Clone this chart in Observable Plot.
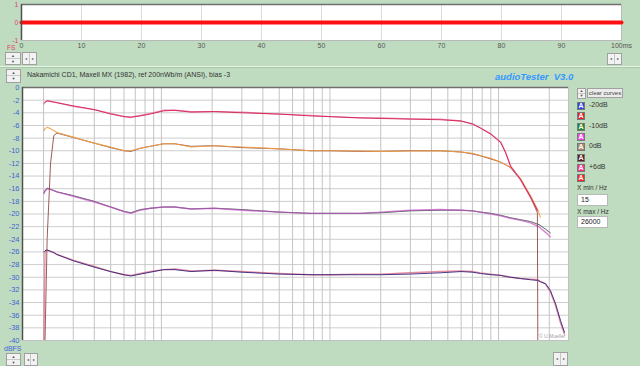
<!DOCTYPE html>
<html><head><meta charset="utf-8">
<script src="https://cdn.jsdelivr.net/npm/d3@7"></script>
<script src="https://cdn.jsdelivr.net/npm/@observablehq/plot@0.6"></script>
<style>
html,body{margin:0;padding:0;background:#c0dcc0;}
#root{position:relative;width:640px;height:366px;overflow:hidden;background:#c0dcc0;font-family:"Liberation Sans",Arial,sans-serif;}
#root svg{position:absolute;background:transparent;}
.t{position:absolute;white-space:pre;}
.btn{position:absolute;box-sizing:border-box;background:#f2f2f2;border:1px solid #a0a0a0;color:#555;font-size:4px;text-align:center;overflow:hidden;white-space:nowrap;}
.half{display:block;box-sizing:border-box;}
.box{position:absolute;box-sizing:border-box;width:8px;height:8px;border:1px solid #777;color:#fff;font-size:7px;line-height:6px;text-align:center;font-weight:bold;}
.inp{position:absolute;box-sizing:border-box;background:#fff;border:1px solid #b8b8b8;font-size:7px;padding-left:3px;color:#222;}
</style></head><body><div id="root"></div>
<script>
// ---------- data ----------
const timeMs = [0, 100];
const fsLevel = [0, 0];
const timeTicks = [0,10,20,30,40,50,60,70,80,90,100];
const timeTickLabels = ["0","10","20","30","40","50","60","70","80","90","100ms"];
const fsTicks = [-1, 0, 1];

const freqHz = [20.1, 20.4, 21, 22, 23, 24, 30, 40, 50, 60, 66, 75, 86, 103, 120, 150, 207, 300, 500, 770,
  1000, 1500, 2000, 3000, 4500, 6000, 7000, 7800, 9000, 10300, 11000, 11800, 13500, 15500, 17000, 17100,
  17700, 19000, 20300, 21800, 23300, 24600];

const plus6dB_a = [-2.6,-2.3,-2.1,-2.2,-2.3,-2.4,-3.0,-3.5,-4.1,-4.6,-4.7,-4.4,-4.1,-3.6,-3.6,-3.8,-3.8,-3.9,-4.2,-4.4,
  -4.6,-4.8,-4.8,-4.95,-5.0,-5.3,-5.7,-6.4,-7.3,-8.6,-10.2,-12.4,-14.6,-17.4,-19.5,null,
  null,null,null,null,null,null];
const plus6dB_b = [null,-2.4,-2.1,-2.2,-2.3,-2.4,-2.9,-3.5,-4.2,-4.6,-4.7,-4.5,-4.2,-3.7,-3.6,-3.9,-3.8,-4.0,-4.2,-4.5,
  -4.6,-4.8,-4.9,-5.0,-5.1,-5.3,-5.8,-6.4,-7.4,-8.7,-10.3,-12.5,-14.5,-17.3,-19.4,null,
  null,null,null,null,null,null];
const zero_dB_a = [-6.8,-6.5,-6.3,-6.5,-6.8,-7.1,-7.85,-8.8,-9.4,-10.0,-10.0,-9.6,-9.3,-8.9,-8.9,-9.4,-9.2,-9.4,-9.7,-10.0,
  -10.0,-10.05,-10.1,-10.05,-10.0,-10.2,-10.4,-10.75,-11.2,-11.8,-12.2,-12.6,-14.4,-17.1,-19.2,-19.3,
  -20.5,null,null,null,null,null];
const zero_dB_b = [null,-40,-24,-12,-7.6,-7.2,-7.9,-8.8,-9.5,-10.0,-10.1,-9.6,-9.3,-8.9,-8.9,-9.3,-9.2,-9.5,-9.7,-10.0,
  -10.0,-10.1,-10.1,-10.0,-10.0,-10.2,-10.5,-10.8,-11.3,-11.8,-12.2,-12.7,-14.6,-17.4,-19.8,-40,
  null,null,null,null,null,null];
const minus10dB_a = [-16.6,-16.3,-15.9,-16.1,-16.3,-16.5,-17.1,-18.0,-18.9,-19.6,-19.8,-19.3,-19.1,-18.9,-18.9,-19.2,-19.1,-19.3,-19.7,-19.9,
  -19.9,-19.9,-19.8,-19.5,-19.4,-19.4,-19.5,-19.7,-19.9,-20.2,-20.4,-20.6,-20.9,-21.2,-21.6,-21.6,
  -21.8,-22.4,-23.0,null,null,null];
const minus10dB_b = [-16.8,-16.4,-16.0,-16.1,-16.3,-16.5,-17.2,-18.1,-18.9,-19.6,-19.9,-19.4,-19.1,-18.9,-18.9,-19.2,-19.1,-19.4,-19.7,-19.9,
  -19.9,-19.9,-19.7,-19.4,-19.3,-19.4,-19.5,-19.7,-20.0,-20.3,-20.5,-20.7,-21.0,-21.4,-21.9,-21.9,
  -22.2,-22.9,-23.6,null,null,null];
const minus20dB_a = [-26.0,-25.8,-25.7,-25.9,-26.1,-26.4,-27.4,-28.4,-29.1,-29.6,-29.8,-29.5,-29.2,-28.8,-28.8,-29.1,-28.9,-29.2,-29.5,-29.6,
  -29.6,-29.6,-29.6,-29.5,-29.3,-29.1,-29.2,-29.4,-29.6,-29.7,-29.9,-30.0,-30.2,-30.4,-30.5,-30.5,
  -30.7,-31.0,-32.1,-34.2,-36.8,-38.7];
const minus20dB_b = [-40,-26.0,-25.7,-25.9,-26.1,-26.4,-27.3,-28.3,-29.1,-29.6,-29.7,-29.4,-29.1,-28.8,-28.7,-29.0,-28.9,-29.1,-29.4,-29.6,
  -29.6,-29.5,-29.5,-29.3,-29.1,-29.0,-29.1,-29.3,-29.5,-29.7,-29.8,-30.0,-30.2,-30.3,-30.4,-30.4,
  -30.7,-31.1,-32.3,-34.5,-37.2,-39.0];

const dbTicks = [0,-2,-4,-6,-8,-10,-12,-14,-16,-18,-20,-22,-24,-26,-28,-30,-32,-34,-36,-38,-40];
const hzTicks = [20,30,50,100,200,300,500,1000,2000,3000,5000,10000,20000];
const hzTickLabels = ["20","30","50","100","200","300","500","1k","2k","3k","5k","10k","20kHz"];
const hzGrid = [20,30,40,50,60,70,80,90,100,200,300,400,500,600,700,800,900,
  1000,2000,3000,4000,5000,6000,7000,8000,9000,10000,20000];

const legendLabels = ["-20dB","","-10dB","","0dB","","+6dB",""];
const title = "Nakamichi CD1, Maxell MX (1982), ref 200nWb/m (ANSI), bias -3";

// ---------- styles (kept separate from data) ----------
const legendColors = ["#2b45e0","#e02424","#1f8a2a","#ee44ee","#a88a6a","#5a2020","#ff2e8c","#ff2020"];
const curves = [
  {v: minus20dB_b, c: "#e0708a", w: 1.4, o: 0.8},
  {v: minus20dB_a, c: "#2a1a7a", w: 0.9, o: 0.95},
  {v: minus10dB_a, c: "#5aa05a", w: 1.0, o: 0.9},
  {v: minus10dB_b, c: "#d070d0", w: 1.4, o: 0.85},
  {v: minus10dB_a, c: "#6a2a7a", w: 0.6, o: 0.7},
  {v: zero_dB_b,  c: "#8a4040", w: 1.0, o: 0.85},
  {v: zero_dB_a,  c: "#f0a040", w: 1.1, o: 0.9},
  {v: plus6dB_a,  c: "#e878b0", w: 1.3, o: 0.9},
  {v: plus6dB_b,  c: "#d01038", w: 0.9, o: 0.85}
];

const root = document.getElementById("root");
function place(el, x, y){ el.style.left = x+"px"; el.style.top = y+"px"; root.appendChild(el); return el; }
function text(str, x, y, css){ const d=document.createElement("div"); d.className="t"; d.textContent=str; d.style.cssText += css||""; return place(d,x,y); }
function vSpin(x,y,w,h){ const d=document.createElement("div"); d.className="btn"; d.style.width=w+"px"; d.style.height=h+"px";
  const hh=(h-2)/2;
  d.innerHTML = `<span class="half" style="height:${hh}px;line-height:${hh}px;border-bottom:1px solid #c8c8c8">▲</span><span class="half" style="height:${hh}px;line-height:${hh}px">▼</span>`; return place(d,x,y); }
function hSpin(x,y,w,h){ const d=document.createElement("div"); d.className="btn"; d.style.width=w+"px"; d.style.height=h+"px";
  const ww=(w-2)/2;
  d.innerHTML = `<span style="display:inline-block;width:${ww}px;line-height:${h-2}px;border-right:1px solid #c8c8c8;box-sizing:border-box">◂</span><span style="display:inline-block;width:${ww}px;line-height:${h-2}px">▸</span>`; return place(d,x,y); }

// ---------- top (time) panel ----------
const timeRows = timeMs.map((t,i)=>({t, v: fsLevel[i]}));
const timeChart = Plot.plot({
  width: 640, height: 54,
  marginLeft: 21, marginRight: 19, marginTop: 4, marginBottom: 14,
  style: {fontFamily: "Liberation Sans, Arial, sans-serif", fontSize: "7px", background: "transparent"},
  x: {domain: [0, 100]},
  y: {domain: [-1, 1]},
  marks: [
    Plot.frame({fill: "white", stroke: "#b8b8b8"}),
    Plot.ruleX(timeTicks.slice(1,-1), {stroke: "#dcdcdc"}),
    Plot.line(timeRows, {x: "t", y: "v", stroke: "#ff1010", strokeWidth: 4}),
    Plot.ruleY([1], {stroke: "#707070", strokeWidth: 1.5}),
    Plot.ruleX([0], {stroke: "#505050", strokeWidth: 1.5}),
    Plot.axisY({ticks: fsTicks, label: null, tickSize: 0, tickPadding: 3, fill: "#e0406a", tickFormat: d => String(d)}),
    Plot.axisX({ticks: timeTicks, label: null, tickSize: 0, tickPadding: 3, fill: "#555", tickFormat: (d,i) => timeTickLabels[i]})
  ]
});
timeChart.style.left = "0px"; timeChart.style.top = "0px";
root.appendChild(timeChart);
text("FS", 7, 43.5, "font-size:6.5px;color:#e0406a;");

// separator
const sep = document.createElement("div");
sep.style.cssText = "position:absolute;left:0;width:640px;height:1px;background:#e8f4e8;border-bottom:1px solid #a8c8a8;";
place(sep, 0, 66);

vSpin(5, 52, 16, 13);
hSpin(22, 52, 15, 13);
hSpin(607, 53, 15, 12);
vSpin(6, 69, 15, 14);
text(title, 27, 71, "font-size:7px;color:#333;");
text("audioTester  V3.0", 495, 71, "font-size:9.5px;font-weight:bold;font-style:italic;color:#3399ff;");

// ---------- main frequency-response chart ----------
const mainChart = Plot.plot({
  width: 580, height: 280,
  marginLeft: 22, marginRight: 12, marginTop: 7, marginBottom: 20,
  style: {fontFamily: "Liberation Sans, Arial, sans-serif", fontSize: "7.5px", background: "transparent"},
  x: {type: "log", domain: [15, 26000]},
  y: {domain: [-40, 0]},
  marks: [
    Plot.frame({fill: "white", stroke: "#c0c0c0"}),
    Plot.ruleY(dbTicks.slice(1,-1), {stroke: "#cdcdcd"}),
    Plot.ruleX(hzGrid, {stroke: "#c4c4c4"}),
    ...curves.map(s => Plot.line(freqHz.map((f,i)=>({f, db: s.v[i]})), {x: "f", y: "db", stroke: s.c, strokeWidth: s.w, strokeOpacity: s.o, clip: true})),
    Plot.ruleY([0], {stroke: "#707070", strokeWidth: 1.5}),
    Plot.ruleX([15], {stroke: "#505050", strokeWidth: 1.5}),
    Plot.axisY({ticks: dbTicks, label: null, tickSize: 0, tickPadding: 3, fill: "#3f63d6", tickFormat: d => String(d)}),
    Plot.axisX({ticks: hzTicks, label: null, tickSize: 0, tickPadding: 6, fill: "#444", tickFormat: (d,i) => hzTickLabels[i]})
  ]
});
mainChart.style.left = "0px"; mainChart.style.top = "80px";
root.appendChild(mainChart);

text("dBFS", 4, 345, "font-size:7px;color:#3f63d6;");
text("© U.Mueller", 539, 333, "font-size:5px;color:#a0a0a0;");
vSpin(6, 353, 15, 13);
hSpin(24, 353, 14, 13);
hSpin(553, 352, 15, 14);

// ---------- right panel ----------
vSpin(577, 88, 9, 11);
const cb = document.createElement("div");
cb.className = "btn";
cb.style.cssText += "width:36px;height:10px;font-size:6px;line-height:8px;color:#444;background:#ececec;";
cb.textContent = "clear curves";
place(cb, 587, 88);

legendColors.forEach((c,i) => {
  const b = document.createElement("div");
  b.className = "box"; b.style.background = c; b.textContent = "A";
  place(b, 577, 102 + i*10.3);
  if (legendLabels[i]) text(legendLabels[i], 589, 101 + i*10.3, "font-size:7px;color:#333;");
});

text("X min / Hz", 577, 184, "font-size:6.5px;color:#333;");
const i1 = document.createElement("div"); i1.className="inp"; i1.style.cssText += "width:31px;height:12px;line-height:10px;"; i1.textContent = "15"; place(i1, 577, 194);
text("X max / Hz", 577, 208, "font-size:6.5px;color:#333;");
const i2 = document.createElement("div"); i2.className="inp"; i2.style.cssText += "width:31px;height:12px;line-height:10px;"; i2.textContent = "26000"; place(i2, 577, 216);
</script></body></html>
